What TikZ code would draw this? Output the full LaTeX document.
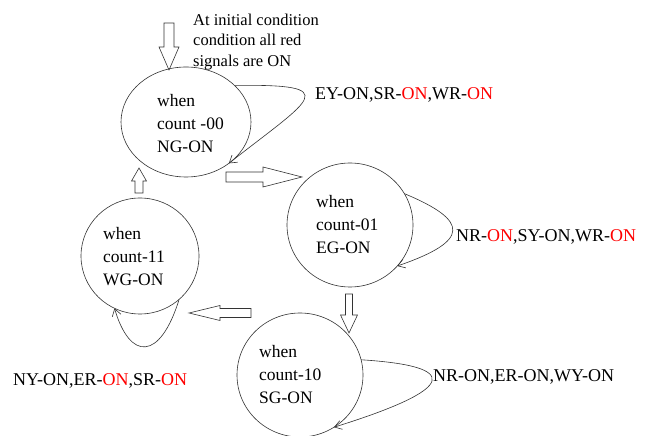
\documentclass[tikz,border=0pt]{standalone}
\usepackage{fontspec}
\setmainfont{Liberation Serif}
\usetikzlibrary{arrows.meta,calc,shapes.geometric}

% hollow block arrow: from, to, shaft half width, head half width, head length
\newcommand{\blockarrow}[5]{%
  \coordinate (ba-b) at ($(#2)!#5!(#1)$);
  \draw[blockline] ($(#1)!#3!90:(#2)$) -- ($(ba-b)!#3!-90:(#1)$) -- ($(ba-b)!#4!-90:(#1)$)
    -- (#2) -- ($(ba-b)!#4!90:(#1)$) -- ($(ba-b)!#3!90:(#1)$) -- ($(#1)!#3!-90:(#2)$) -- cycle;
}

\begin{document}
\begin{tikzpicture}[x=1pt,y=1pt,
  state/.style={draw=black!80, line width=0.6pt, ellipse, inner sep=0pt, outer sep=0pt},
  statetext/.style={anchor=west, align=left, inner sep=0pt, font=\fontsize{17.5}{23}\selectfont},
  looplabel/.style={anchor=west, inner sep=0pt, font=\fontsize{18}{22}\selectfont},
  loopline/.style={draw=black!80, line width=0.6pt, -{Straight Barb[length=7pt,width=9pt]}},
  blockline/.style={draw=black!80, line width=0.6pt, line join=miter}]
\useasboundingbox (0,0) rectangle (653,436);

\node[state, minimum width=130pt, minimum height=110pt] (s00) at (186,314) {};
\node[state, minimum width=126pt, minimum height=124pt] (s01) at (350,211) {};
\node[state, minimum width=126pt, minimum height=124pt] (s10) at (300,61) {};
\node[state, minimum width=118pt, minimum height=116pt] (s11) at (140,180) {};

\node[statetext] (t00) at (157,312) {when\\count -00\\NG-ON};
\node[statetext] (t01) at (316,211) {when\\count-01\\EG-ON};
\node[statetext] (t10) at (259,61) {when\\count-10\\SG-ON};
\node[statetext] (t11) at (103,179) {when\\count-11\\WG-ON};

\node[anchor=west, align=left, inner sep=0pt, font=\fontsize{16.5}{20.5}\selectfont] (init) at (193,394)
  {At initial condition\\condition all red\\signals are ON};

\draw[loopline] (s00.37) .. controls (345,352) and (312,338) .. (s00.-44);
\draw[loopline] (s01.30) .. controls (470,215) and (470,195) .. (s01.-41);
\draw[loopline] (s10.14) .. controls (460,70) and (460,48) .. (s10.-57);
\draw[loopline] (s11.-48) .. controls (160,75) and (130,75) .. (s11.-116);

\node[looplabel] (l00) at (315,341) {EY-ON,SR-\textcolor{red}{ON},WR-\textcolor{red}{ON}};
\node[looplabel] (l01) at (456,199) {NR-\textcolor{red}{ON},SY-ON,WR-\textcolor{red}{ON}};
\node[looplabel] (l10) at (433,59) {NR-ON,ER-ON,WY-ON};
\node[looplabel] (l11) at (13,55) {NY-ON,ER-\textcolor{red}{ON},SR-\textcolor{red}{ON}};

\coordinate (i0) at (169,413);
\coordinate (i1) at (169,366);
\coordinate (a1s) at (226,259);
\coordinate (a1e) at (302,259);
\coordinate (a2s) at (349,142);
\coordinate (a2e) at (349,103);
\coordinate (a3s) at (251,123);
\coordinate (a3e) at (189,123);
\coordinate (a4s) at (139,243);
\coordinate (a4e) at (139,268);

\blockarrow{i0}{i1}{5pt}{10pt}{23pt}
\blockarrow{a1s}{a1e}{5pt}{10pt}{39pt}
\blockarrow{a2s}{a2e}{3.5pt}{8.5pt}{18pt}
\blockarrow{a3s}{a3e}{4.5pt}{7.5pt}{31pt}
\blockarrow{a4s}{a4e}{4pt}{7.5pt}{13pt}
\end{tikzpicture}
\end{document}
